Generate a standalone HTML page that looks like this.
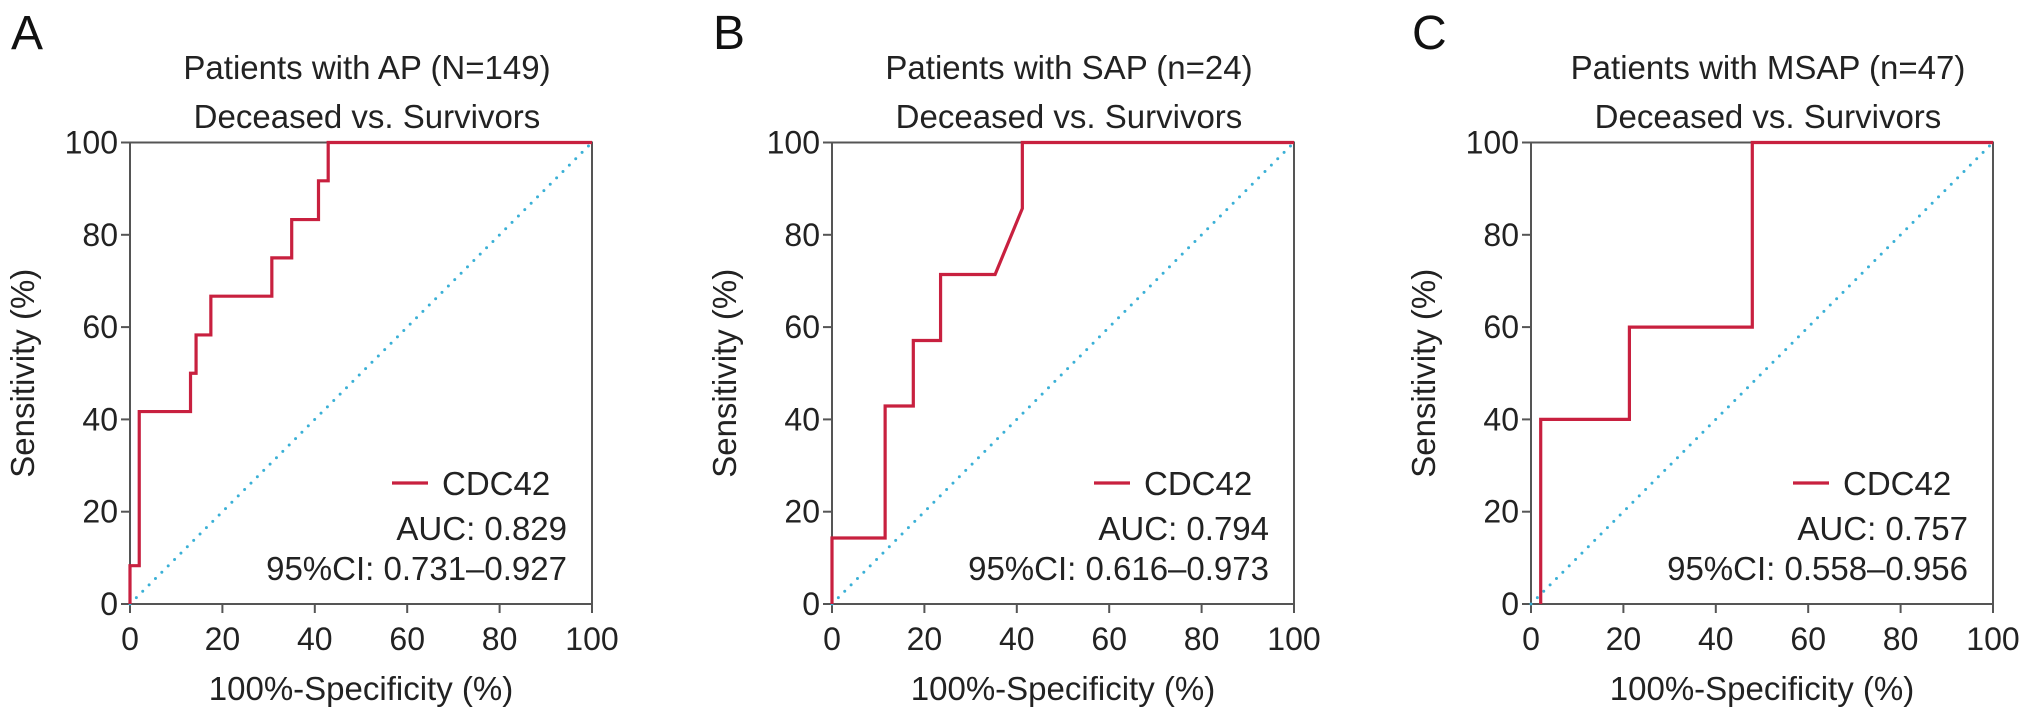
<!DOCTYPE html>
<html><head><meta charset="utf-8"><style>
html,body{margin:0;padding:0;background:#fff;}
svg{display:block;font-family:"Liberation Sans",Arial,sans-serif;}
</style></head><body>
<svg id="fig" width="2031" height="723" viewBox="0 0 2031 723" xmlns="http://www.w3.org/2000/svg"></svg>
<script>
// Panel data (FPR % = 100%-Specificity, TPR % = Sensitivity)
const panelLetters = ["A","B","C"];
const titles1 = ["Patients with AP (N=149)","Patients with SAP (n=24)","Patients with MSAP (n=47)"];
const titles2 = ["Deceased vs. Survivors","Deceased vs. Survivors","Deceased vs. Survivors"];
const aucLabels = ["AUC: 0.829","AUC: 0.794","AUC: 0.757"];
const ciLabels = ["95%CI: 0.731\u20130.927","95%CI: 0.616\u20130.973","95%CI: 0.558\u20130.956"];
const fprA = [0,0,2.0,2.0,13.1,13.1,14.3,14.3,17.5,17.5,30.7,30.7,35.0,35.0,40.8,40.8,42.9,42.9,100];
const tprA = [0,8.3,8.3,41.7,41.7,50.0,50.0,58.3,58.3,66.7,66.7,75.0,75.0,83.3,83.3,91.7,91.7,100,100];
const fprB = [0,0,11.5,11.5,17.6,17.6,23.5,23.5,35.3,41.2,41.2,100];
const tprB = [0,14.3,14.3,42.9,42.9,57.1,57.1,71.4,71.4,85.7,100,100];
const fprC = [2.1,2.1,21.3,21.3,47.9,47.9,100];
const tprC = [0,40,40,60,60,100,100];
const ticks = [0,20,40,60,80,100];
const tickLabels = ["0","20","40","60","80","100"];

const fprs=[fprA,fprB,fprC], tprs=[tprA,tprB,tprC];
const svg=document.getElementById('fig');
const NS="http://www.w3.org/2000/svg";
const X0s=[130,832,1531], W=462, YTOP=142.5, YBOT=604;
function mk(tag,attrs,parent){const e=document.createElementNS(NS,tag);for(const k in attrs)e.setAttribute(k,attrs[k]);(parent||svg).appendChild(e);return e;}
function txt(s,attrs,parent){const e=mk('text',attrs,parent);e.textContent=s;return e;}

for(let p=0;p<3;p++){
  const x0=X0s[p];
  const xs=v=>x0+v/100*W;
  const ys=v=>YBOT-v/100*(YBOT-YTOP);
  const g=mk('g',{});
  
  
  const L=txt(panelLetters[p],{x:x0-119,y:49,'font-size':48,fill:'#111'},g);
  
  
  const cx=x0+W/2+6;
  const t1=txt(titles1[p],{x:cx,y:79,'font-size':33,'text-anchor':'middle',fill:'#222'},g);
  
  
  const t2=txt(titles2[p],{x:cx,y:128,'font-size':33,'text-anchor':'middle',fill:'#222'},g);
  
  
  const fr=mk('rect',{x:xs(0),y:ys(100),width:W,height:YBOT-YTOP,fill:'none',stroke:'#555','stroke-width':2},g);
  
  
  ticks.forEach((t,i)=>{
    const ty=mk('line',{x1:x0-9,x2:x0,y1:ys(t),y2:ys(t),stroke:'#555','stroke-width':2},g);
    
    
    const tl=txt(tickLabels[i],{x:x0-12,y:ys(t)+11,'font-size':32,'text-anchor':'end',fill:'#222'},g);
    
    
    const tx=mk('line',{x1:xs(t),x2:xs(t),y1:YBOT,y2:YBOT+9,stroke:'#555','stroke-width':2},g);
    
    
    const xl=txt(tickLabels[i],{x:xs(t),y:YBOT+46,'font-size':32,'text-anchor':'middle',fill:'#222'},g);
    
    
  });
  const xt=txt('100%-Specificity (%)',{x:x0+W/2,y:700,'font-size':33,'text-anchor':'middle',fill:'#222'},g);
  
  
  const yx=x0-96;
  const yt=txt('Sensitivity (%)',{x:yx,y:(YTOP+YBOT)/2,'font-size':33,'text-anchor':'middle',fill:'#222',transform:`rotate(-90 ${yx} ${(YTOP+YBOT)/2})`},g);
  
  
  const d=mk('line',{x1:xs(0),y1:ys(0),x2:xs(100),y2:ys(100),stroke:'#3ab0d6','stroke-width':3,'stroke-dasharray':'0 9','stroke-linecap':'round'},g);
  
  
  const pts=fprs[p].map((f,i)=>xs(f)+','+ys(tprs[p][i])).join(' ');
  const c=mk('polyline',{points:pts,fill:'none',stroke:'#c8203f','stroke-width':3.2,'stroke-linejoin':'miter'},g);
  
  
  const lx=x0+262;
  const ll=mk('line',{x1:lx,x2:lx+36,y1:483,y2:483,stroke:'#c8203f','stroke-width':3.2},g);
  
  
  const lt=txt('CDC42',{x:lx+50,y:495,'font-size':33,fill:'#222'},g);
  
  
  const a=txt(aucLabels[p],{x:x0+437,y:540,'font-size':33,'text-anchor':'end',fill:'#222'},g);
  
  
  const ci=txt(ciLabels[p],{x:x0+437,y:580,'font-size':33,'text-anchor':'end',fill:'#222'},g);
  
  
}
</script>
</body></html>
